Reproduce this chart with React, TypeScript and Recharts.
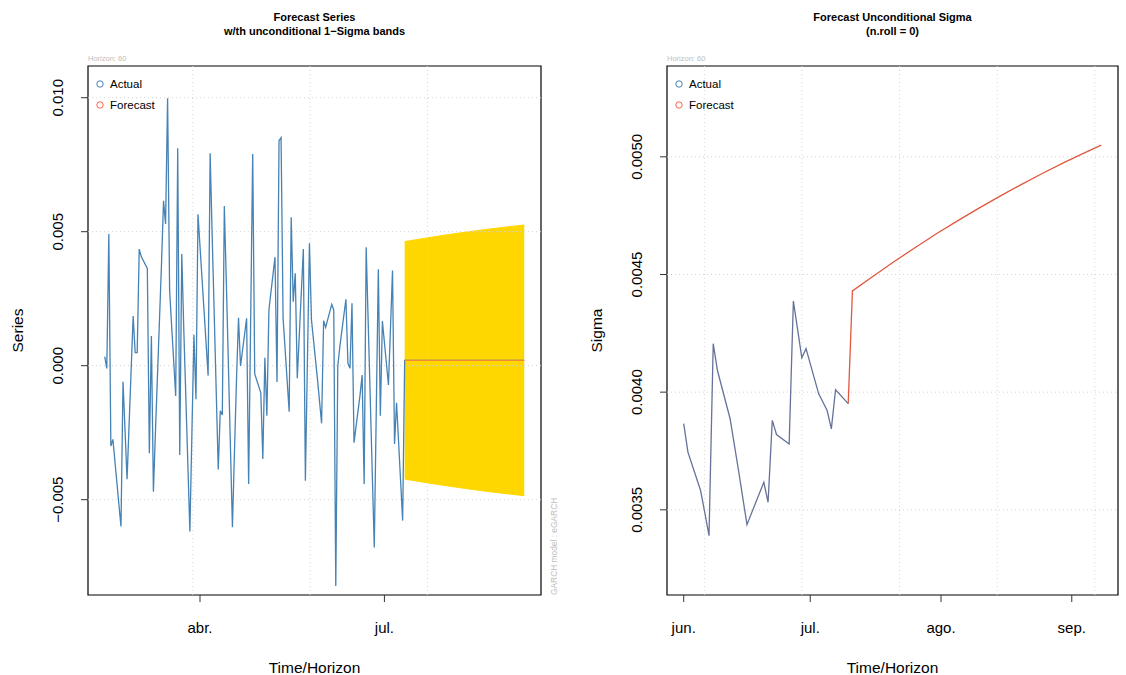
import React from 'react';
import { ComposedChart, Line, Area, XAxis, YAxis, ReferenceLine, ReferenceArea, Legend } from 'recharts';

// days are counted from 1 Jan 2023 (day 0); only trading days carry values
const seriesDays = [
  43, 44, 45, 46, 47, 50, 51, 52, 53, 54, 57, 58, 59, 60, 61, 64, 65, 66, 67, 68,
  71, 72, 73, 74, 75, 78, 79, 80, 81, 82, 85, 86, 87, 88, 89, 92, 93, 94, 95, 96,
  99, 100, 101, 102, 103, 106, 107, 108, 109, 110, 113, 114, 115, 116, 117, 120, 121, 122, 123, 124,
  127, 128, 129, 130, 131, 134, 135, 136, 137, 138, 141, 142, 143, 144, 145, 148, 149, 150, 151, 152,
  155, 156, 157, 158, 159, 162, 163, 164, 165, 166, 169, 170, 171, 172, 173, 176, 177, 178, 179, 180,
  183, 184, 185, 186, 187, 190,
];
const seriesValues = [
  0.00034, -0.0001, 0.00491, -0.003, -0.00275, -0.0052, -0.006, -0.0006, -0.00242, -0.00424,
  0.00185, 0.00049, 0.00049, 0.00435, 0.00407, 0.00363, -0.00327, 0.00111, -0.0047, -0.00247,
  0.00381, 0.00615, 0.00529, 0.00998, 0.0028, -0.00113, 0.00811, -0.00333, 0.00417, 0.00133,
  -0.00619, -0.00251, 0.00115, -0.00125, 0.00565, 0.00204, 0.00083, -0.00037, 0.00793, 0.00486,
  -0.00387, -0.00168, -0.00184, 0.00596, 0.00309, -0.00603, -0.00322, -0.00053, 0.00179, -0.00001,
  0.00177, -0.00441, 0.00174, 0.0079, -0.00031, -0.00101, -0.00348, 0.0003, -0.00187, 0.00208,
  0.00405, -0.00061, 0.0084, 0.00851, 0.00177, -0.00172, 0.00554, 0.00239, 0.00345, -0.00047,
  0.00435, -0.00429, 0.00014, 0.00457, 0.00171, -0.00053, -0.00134, -0.00215, 0.00168, 0.00143,
  0.00229, 0.00208, -0.00822, -0.00001, 0.00071, 0.00248, 0.00009, -0.0001, 0.00233, -0.00287,
  -0.00108, -0.00035, -0.00441, 0.00442, 0.00162, -0.00678, -0.00159, 0.0036, -0.00187, 0.00167,
  -0.00072, 0.00141, 0.00355, -0.00292, -0.00138, -0.00578,
];

const sigmaDays = [
  151, 152, 155, 156, 157, 158, 159, 162, 163, 164, 165, 166, 169, 170, 171, 172, 173,
  176, 177, 178, 179, 180, 183, 184, 185, 186, 187, 190,
];
const sigmaValues = [
  0.003866, 0.003745, 0.003582, 0.003488, 0.00339, 0.004206, 0.004092, 0.003887, 0.003777, 0.003667,
  0.003552, 0.003437, 0.003573, 0.003617, 0.003532, 0.00388, 0.00382, 0.00378, 0.004387, 0.004267,
  0.004146, 0.004185, 0.003993, 0.003958, 0.003922, 0.003844, 0.00401, 0.003951,
];

const forecastDays = [191, 196, 201, 206, 211, 216, 221, 226, 231, 236, 241, 246, 250];
const forecastMean = [0.0002, 0.0002, 0.0002, 0.0002, 0.0002, 0.0002, 0.0002, 0.0002, 0.0002, 0.0002, 0.0002, 0.0002, 0.0002];
const forecastSigma = [
  0.00443, 0.004494, 0.004556, 0.004616, 0.004674, 0.004729, 0.004782, 0.004833, 0.004882, 0.004929,
  0.004974, 0.005017, 0.00505,
];

const leftTickDays = [90, 181];
const leftTickLabels = ['abr.', 'jul.'];
const rightTickDays = [151, 181, 212, 243];
const rightTickLabels = ['jun.', 'jul.', 'ago.', 'sep.'];
const seriesTicks = [-0.005, 0, 0.005, 0.01];
const seriesTickLabels = ['\u22120.005', '0.000', '0.005', '0.010'];
const sigmaTicks = [0.0035, 0.004, 0.0045, 0.005];
const sigmaTickLabels = ['0.0035', '0.0040', '0.0045', '0.0050'];
const leftGridDays = [86.44, 144.31, 202.18];
const rightGridDays = [155.89, 179.04, 202.19, 225.33, 248.48];

const FONT = '"Liberation Sans", Arial, Helvetica, sans-serif';
const BLUE = '#4682B4';
const TOMATO = '#FF6347';
const GOLD = '#FFD700';
const GRID = '#D3D3D3';

const leftX: [number, number] = [34.72, 258.28];
const leftY: [number, number] = [-0.008556, 0.011183];
const rightX: [number, number] = [147.04, 253.96];
const rightY: [number, number] = [0.003138, 0.005386];

// series line runs on into the forecast mean, as in the original plot
const leftLine = seriesDays
  .map((d, i) => ({ day: d, v: seriesValues[i] }))
  .concat(forecastDays.map((d, i) => ({ day: d, v: forecastMean[i] })));
const leftBand = forecastDays.map((d, i) => ({
  day: d,
  band: [forecastMean[i] - forecastSigma[i], forecastMean[i] + forecastSigma[i]],
}));
const leftForecast = forecastDays.map((d, i) => ({ day: d, v: forecastMean[i] }));

const sigmaActual = sigmaDays.map((d, i) => ({ day: d, v: sigmaValues[i] }));
const sigmaForecast = [{ day: sigmaDays[sigmaDays.length - 1], v: sigmaValues[sigmaValues.length - 1] }].concat(
  forecastDays.map((d, i) => ({ day: d, v: forecastSigma[i] }))
);

const xTick = (days: number[], labels: string[]) => (props: any) => {
  const { x, y, payload } = props;
  return (
    <text x={x} y={y + 29} textAnchor="middle" fontSize={15} fontFamily={FONT} fill="#000">
      {labels[days.indexOf(payload.value)]}
    </text>
  );
};

const yTick = (ticks: number[], labels: string[]) => (props: any) => {
  const { x, y, payload } = props;
  let idx = ticks.findIndex((t) => Math.abs(t - payload.value) < 1e-9);
  const bx = x - 16;
  return (
    <text x={bx} y={y} transform={`rotate(-90, ${bx}, ${y})`} textAnchor="middle" fontSize={15} fontFamily={FONT} fill="#000">
      {labels[idx]}
    </text>
  );
};

const xTitle = (props: any) => {
  const vb = props.viewBox || { x: 0, y: 0, width: 0 };
  return (
    <text x={vb.x + vb.width / 2} y={vb.y + 77.5} textAnchor="middle" fontSize={15.5} fontFamily={FONT} fill="#000">
      Time/Horizon
    </text>
  );
};

const yTitle = (name: string) => (props: any) => {
  const vb = props.viewBox || { x: 0, y: 0, width: 0, height: 0 };
  const bx = vb.x + vb.width - 65;
  const cy = vb.y + vb.height / 2;
  return (
    <text x={bx} y={cy} transform={`rotate(-90, ${bx}, ${cy})`} textAnchor="middle" fontSize={15.5} fontFamily={FONT} fill="#000">
      {name}
    </text>
  );
};

function LegendBox() {
  const items: [string, string][] = [['Actual', BLUE], ['Forecast', TOMATO]];
  return (
    <div style={{ fontFamily: FONT, fontSize: 11.5, color: '#000' }}>
      {items.map(([name, c]) => (
        <div key={name} style={{ display: 'flex', alignItems: 'center', height: 21 }}>
          <svg width={10} height={10}>
            <circle cx={5} cy={5} r={3.2} fill="none" stroke={c} strokeWidth={1} />
          </svg>
          <span style={{ marginLeft: 5 }}>{name}</span>
        </div>
      ))}
    </div>
  );
}

function Annotations() {
  return (
    <svg width={1126} height={675} style={{ position: 'absolute', left: 0, top: 0, pointerEvents: 'none' }}>
      <g fontFamily={FONT} fontWeight="bold" fontSize={11} textAnchor="middle" fill="#000">
        <text x={314.5} y={21}>Forecast Series</text>
        <text x={314.5} y={35}>w/th unconditional 1{'\u2212'}Sigma bands</text>
        <text x={892.5} y={21}>Forecast Unconditional Sigma</text>
        <text x={892.5} y={35}>(n.roll = 0)</text>
      </g>
      <g fontFamily={FONT} fontSize={7.5} fill="#BEBEBE">
        <text x={88} y={61}>Horizon: 60</text>
        <text x={667} y={61}>Horizon: 60</text>
        <text x={556.5} y={595} transform="rotate(-90, 556.5, 595)" fontSize={8.4}>
          GARCH model : eGARCH
        </text>
      </g>
    </svg>
  );
}

function SeriesPanel() {
  return (
    <ComposedChart width={560} height={675} margin={{ top: 66, right: 19, bottom: 20, left: 0 }}>
      {seriesTicks.map((t) => (
        <ReferenceLine key={`h${t}`} y={t} stroke={GRID} strokeDasharray="1 3" />
      ))}
      {leftGridDays.map((d) => (
        <ReferenceLine key={`v${d}`} x={d} stroke={GRID} strokeDasharray="1 3" />
      ))}
      <XAxis
        type="number"
        dataKey="day"
        domain={leftX}
        allowDataOverflow
        ticks={leftTickDays}
        height={60}
        axisLine={false}
        tickLine={{ stroke: '#333' }}
        tickSize={7}
        tickMargin={2}
        tick={xTick(leftTickDays, leftTickLabels)}
        label={{ content: xTitle }}
      />
      <YAxis
        type="number"
        domain={leftY}
        allowDataOverflow
        ticks={seriesTicks}
        width={88}
        axisLine={false}
        tickLine={{ stroke: '#333' }}
        tickSize={7}
        tickMargin={2}
        tick={yTick(seriesTicks, seriesTickLabels)}
        label={{ content: yTitle('Series') }}
      />
      <Line data={leftLine} dataKey="v" type="linear" stroke={BLUE} strokeWidth={1.3} dot={false} isAnimationActive={false} />
      <Area data={leftBand} dataKey="band" type="linear" fill={GOLD} fillOpacity={1} stroke={GOLD} isAnimationActive={false} />
      <Line data={leftForecast} dataKey="v" type="linear" stroke="#F5883A" strokeWidth={1.2} dot={false} isAnimationActive={false} />
      <ReferenceArea x1={leftX[0]} x2={leftX[1]} y1={leftY[0]} y2={leftY[1]} fill="none" stroke="#000" strokeWidth={1.2} ifOverflow="visible" />
      <Legend layout="horizontal" verticalAlign="middle" align="center" content={() => <LegendBox />} wrapperStyle={{ left: 95, top: 73.5, width: 'auto' }} />
    </ComposedChart>
  );
}

function SigmaPanel() {
  return (
    <ComposedChart width={566} height={675} margin={{ top: 66, right: 8, bottom: 20, left: 0 }}>
      {sigmaTicks.map((t) => (
        <ReferenceLine key={`h${t}`} y={t} stroke={GRID} strokeDasharray="1 3" />
      ))}
      {rightGridDays.map((d) => (
        <ReferenceLine key={`v${d}`} x={d} stroke={GRID} strokeDasharray="1 3" />
      ))}
      <XAxis
        type="number"
        dataKey="day"
        domain={rightX}
        allowDataOverflow
        ticks={rightTickDays}
        height={60}
        axisLine={false}
        tickLine={{ stroke: '#333' }}
        tickSize={7}
        tickMargin={2}
        tick={xTick(rightTickDays, rightTickLabels)}
        label={{ content: xTitle }}
      />
      <YAxis
        type="number"
        domain={rightY}
        allowDataOverflow
        ticks={sigmaTicks}
        width={107}
        axisLine={false}
        tickLine={{ stroke: '#333' }}
        tickSize={7}
        tickMargin={2}
        tick={yTick(sigmaTicks, sigmaTickLabels)}
        label={{ content: yTitle('Sigma') }}
      />
      <Line data={sigmaForecast} dataKey="v" type="linear" stroke="#E0583F" strokeWidth={1.3} dot={false} isAnimationActive={false} />
      <Line data={sigmaActual} dataKey="v" type="linear" stroke="#66729A" strokeWidth={1.3} dot={false} isAnimationActive={false} />
      <ReferenceArea x1={rightX[0]} x2={rightX[1]} y1={rightY[0]} y2={rightY[1]} fill="none" stroke="#000" strokeWidth={1.2} ifOverflow="visible" />
      <Legend layout="horizontal" verticalAlign="middle" align="center" content={() => <LegendBox />} wrapperStyle={{ left: 114, top: 73.5, width: 'auto' }} />
    </ComposedChart>
  );
}

export default function App() {
  return (
    <div style={{ position: 'absolute', left: 0, top: 0, width: 1126, height: 675, background: '#fff' }}>
      <div style={{ position: 'absolute', left: 0, top: 0 }}>
        <SeriesPanel />
      </div>
      <div style={{ position: 'absolute', left: 560, top: 0 }}>
        <SigmaPanel />
      </div>
      <Annotations />
    </div>
  );
}
